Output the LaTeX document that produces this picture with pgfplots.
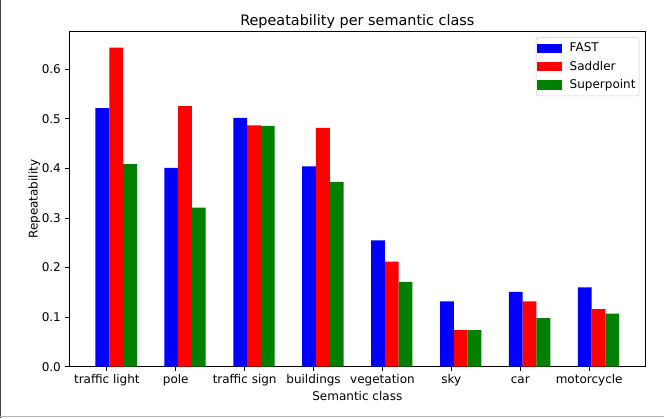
\documentclass[border=0pt]{standalone}
\usepackage{fontspec}
\setmainfont{DejaVu Sans}
\usepackage{pgfplots}
\pgfplotsset{compat=1.18}
\definecolor{mplgreen}{RGB}{0,128,0}
\begin{document}
\begin{tikzpicture}
\useasboundingbox (-57.75pt,-42.75pt) rectangle (495.55pt,305.58pt);
\draw[black!75, line width=0.8pt] (-57.1pt,-42.75pt) -- (-57.1pt,305.58pt);
\draw[black!30, line width=1pt] (-57.75pt,-41.2pt) -- (495.55pt,-41.2pt);
\begin{axis}[
  at={(0,0)}, anchor=south west,
  scale only axis, width=480pt, height=279.17pt,
  xmin=-0.48, xmax=7.88, ymin=0, ymax=0.676,
  ybar, bar width=0.2, bar shift=0pt,
  axis line style={black, line width=0.8pt},
  tick align=outside, tick pos=left,
  major tick length=3.5pt,
  tick style={black, line width=0.8pt},
  xtick={0.065,1.065,2.065,3.065,4.065,5.065,6.065,7.065},
  xticklabels={traffic light,pole,traffic sign,buildings,vegetation,sky,car,motorcycle},
  ytick={0,0.1,0.2,0.3,0.4,0.5,0.6},
  yticklabel style={/pgf/number format/.cd, fixed, fixed zerofill, precision=1, assume math mode=true},
  ticklabel style={font=\fontsize{10}{12}\selectfont},
  xticklabel style={yshift=1pt, text height=7.6pt, text depth=2.2pt},
  title={Repeatability per semantic class},
  title style={font=\fontsize{12}{14}\selectfont, at={(0.5,1)}, anchor=south, yshift=-6.5pt},
  xlabel={Semantic class},
  ylabel={Repeatability},
  label style={font=\fontsize{10}{12}\selectfont},
  xlabel style={yshift=2pt},
  ylabel style={yshift=-5.5pt},
  legend cell align=left,
  legend style={at={(1,1)}, anchor=north east, xshift=-5pt, yshift=-4.7pt,
    draw=black!20, rounded corners=2pt, font=\fontsize{10}{12}\selectfont,
    row sep=2.2pt, inner xsep=1pt, inner ysep=2.5pt,
    /tikz/every odd column/.append style={column sep=4.5pt}},
  legend image code/.code={\fill[#1, sharp corners] (0pt,-3.9pt) rectangle (20.6pt,3.9pt);},
]
\addplot[fill=blue, draw=none] coordinates {(0,0.522) (1,0.401) (2,0.502) (3,0.404) (4,0.255) (5,0.132) (6,0.151) (7,0.160)};
\addplot[fill=red, draw=none] coordinates {(0.2,0.644) (1.2,0.526) (2.2,0.487) (3.2,0.482) (4.2,0.212) (5.2,0.074) (6.2,0.132) (7.2,0.116)};
\addplot[fill=mplgreen, draw=none] coordinates {(0.4,0.409) (1.4,0.321) (2.4,0.486) (3.4,0.373) (4.4,0.171) (5.4,0.074) (6.4,0.098) (7.4,0.107)};
\legend{FAST,Saddler,Superpoint}
\end{axis}
\end{tikzpicture}
\end{document}
